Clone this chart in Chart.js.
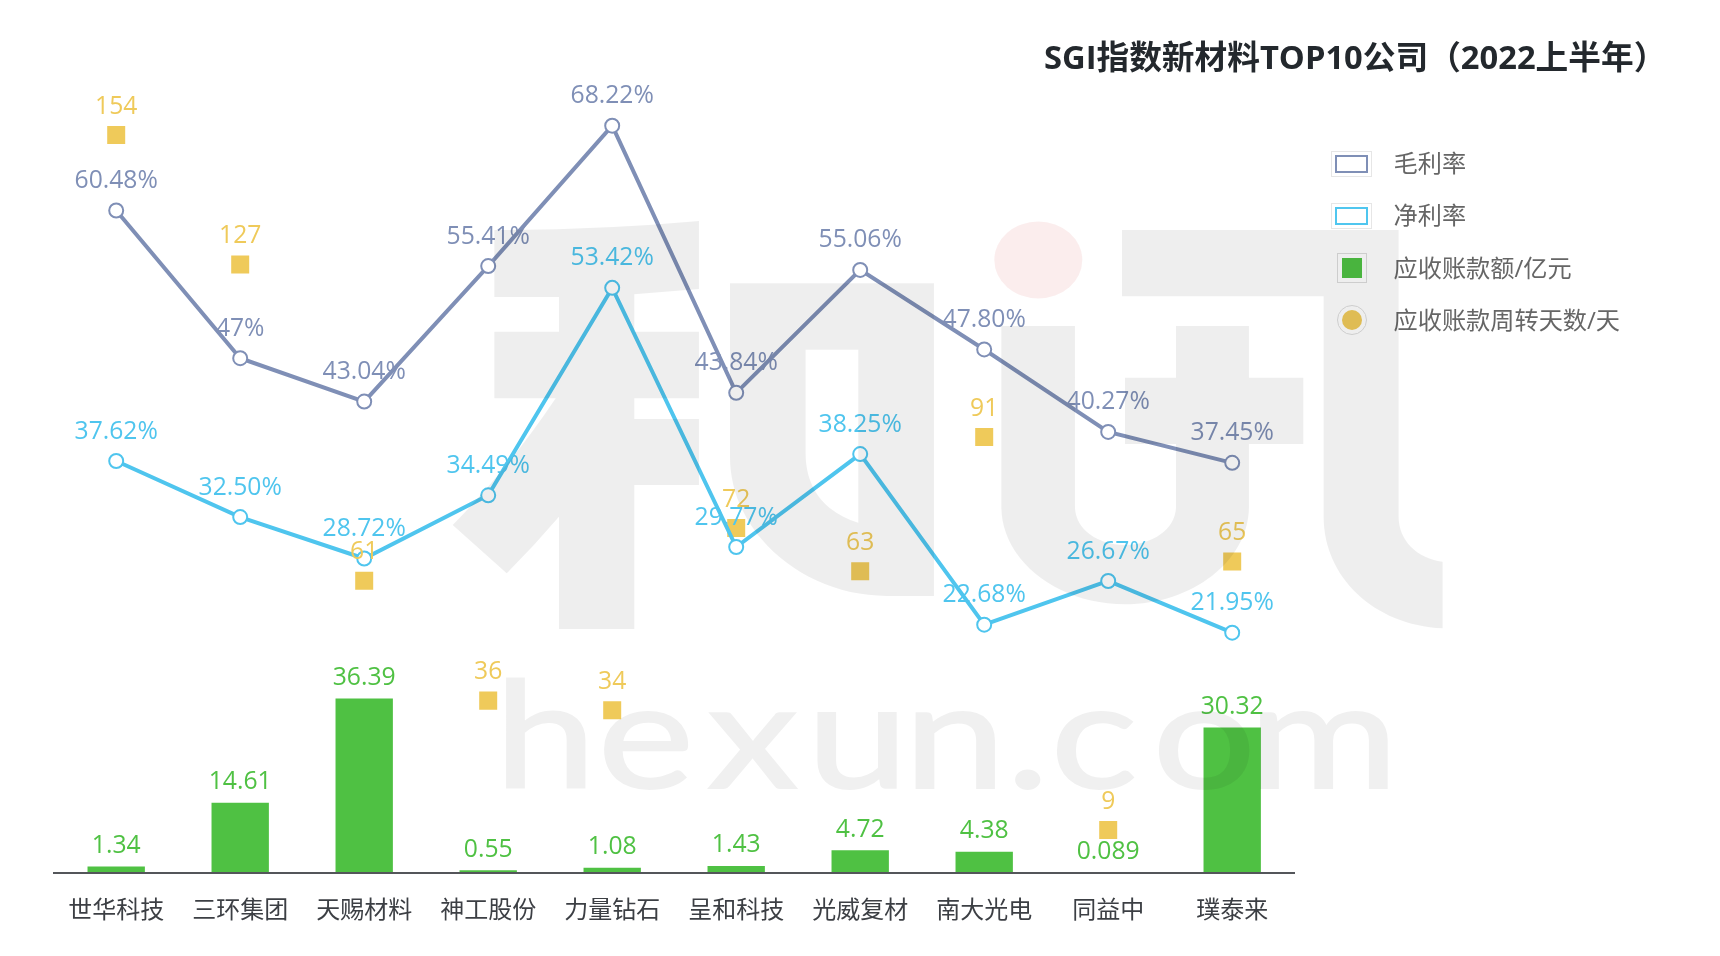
<!DOCTYPE html>
<html lang="zh">
<head>
<meta charset="utf-8">
<title>SGI指数新材料TOP10公司</title>
<script src="https://cdn.jsdelivr.net/npm/chart.js@4/dist/chart.umd.min.js"></script>
<style>
  html, body { margin: 0; padding: 0; background: #fff; }
  body { width: 1720px; height: 956px; position: relative; overflow: hidden; font-family: "Open Sans", "Noto Sans CJK SC", sans-serif; }
  #chart { position: absolute; left: 0; top: 0; }
  #title { position: absolute; left: 1044px; top: 35px; font-size: 32.7px; line-height: 44px; font-weight: 700; color: #23282d; white-space: nowrap; }
  .row { position: absolute; left: 1393.5px; font-size: 24.2px; line-height: 32px; color: #666; white-space: nowrap; }
  .key { position: absolute; box-sizing: border-box; }
  #watermark { position: absolute; left: 0; top: 0; pointer-events: none; }
</style>
</head>
<body>
<canvas id="chart" width="1720" height="956"></canvas>
<div id="title">SGI指数新材料TOP10公司（2022上半年）</div>

<div class="key" style="left:1331px;top:151px;width:41px;height:26px;border:1px solid #e6e6e6"></div>
<div class="key" style="left:1335px;top:155px;width:33px;height:18px;border:2.5px solid #7f8fb6;background:#fff"></div>
<div class="row" style="top:147px">毛利率</div>
<div class="key" style="left:1331px;top:203px;width:41px;height:26px;border:1px solid #e6e6e6"></div>
<div class="key" style="left:1335px;top:207px;width:33px;height:18px;border:2.5px solid #4fc6ef;background:#fff"></div>
<div class="row" style="top:199px">净利率</div>
<div class="key" style="left:1337px;top:253px;width:30px;height:30px;border:1px solid #dcdcdc"></div>
<div class="key" style="left:1342px;top:258px;width:20px;height:20px;background:#4fc143"></div>
<div class="row" style="top:252px">应收账款额/亿元</div>
<div class="key" style="left:1337px;top:305px;width:30px;height:30px;border:1px solid #dcdcdc;border-radius:50%"></div>
<div class="key" style="left:1342px;top:310px;width:20px;height:20px;background:#efca5a;border-radius:50%"></div>
<div class="row" style="top:304px">应收账款周转天数/天</div>

<svg id="watermark" width="1720" height="956" viewBox="0 0 1720 956">
  <g fill="#000" fill-opacity="0.067" fill-rule="evenodd">
    <g transform="translate(440 200) scale(0.3333)">
      <path d="M163,90 Q480,90 777,63 V267 L583,283 V395 H777 V595 H583 V657 H777 V855 H583 V1287 H357 V950 Q280,1040 200,1120 L38,975 Q210,800 347,595 H163 V395 H357 V291 H163 Z"/>
      <path d="M870,250 H1482 V1188 H1340 C1090,1188 870,1000 870,770 Z M1097,449 V760 C1097,870 1160,940 1255,968 V449 Z"/>
    </g>
    <g transform="translate(940 200) scale(0.3333)">
      <path d="M184,378 H405 V920 C405,985 470,1035 555,1035 C640,1035 708,985 708,920 V732 H555 V533 H708 V378 H927 V533 H1090 V732 H927 V920 C927,1080 760,1213 555,1213 C350,1213 184,1080 184,920 Z"/>
      <path d="M546,90 H1376 V950 C1376,1020 1430,1075 1508,1085 V1285 C1300,1275 1151,1130 1151,950 V289 H546 Z"/>
    </g>
  </g>
  <ellipse cx="1038.3" cy="260" rx="44" ry="38.5" fill="#c80000" fill-opacity="0.07"/>
  <g opacity="0.058">
    <text transform="scale(1.23 1)" x="402 486 575 656 735 818 854 937 1015" y="787.7" font-family="Lato" font-size="148" fill="#000" stroke="#000" stroke-width="2">hexun.com</text>
  </g>
</svg>

<script>
const categories = ["世华科技", "三环集团", "天赐材料", "神工股份", "力量钻石", "呈和科技", "光威复材", "南大光电", "同益中", "璞泰来"];
const grossMargin = [60.48, 47, 43.04, 55.41, 68.22, 43.84, 55.06, 47.80, 40.27, 37.45];
const grossLabels = ["60.48%", "47%", "43.04%", "55.41%", "68.22%", "43.84%", "55.06%", "47.80%", "40.27%", "37.45%"];
const netMargin = [37.62, 32.50, 28.72, 34.49, 53.42, 29.77, 38.25, 22.68, 26.67, 21.95];
const netLabels = ["37.62%", "32.50%", "28.72%", "34.49%", "53.42%", "29.77%", "38.25%", "22.68%", "26.67%", "21.95%"];
const receivables = [1.34, 14.61, 36.39, 0.55, 1.08, 1.43, 4.72, 4.38, 0.089, 30.32];
const turnoverDays = [154, 127, 61, 36, 34, 72, 63, 91, 9, 65];

const GROSS = "#7f8fb6";
const NET = "#4fc5ee";
const GREEN = "#4fc143";
const GOLD = "#efca5a";
const FONT = '"Open Sans", "Noto Sans CJK SC", sans-serif';

// data labels, one offset per dataset, drawn above the marks
const valueLabels = {
    id: "valueLabels",
    afterDatasetsDraw(chart) {
        const ctx = chart.ctx;
        ctx.save();
        ctx.font = "24.7px " + FONT;
        ctx.textAlign = "center";
        ctx.textBaseline = "middle";
        [1, 0, 2, 3].forEach(function (i) {
            const ds = chart.data.datasets[i];
            ctx.fillStyle = ds.labelColor;
            chart.getDatasetMeta(i).data.forEach(function (el, n) {
                ctx.fillText(ds.labelText[n], el.x, el.y - ds.labelGap);
            });
        });
        ctx.restore();
    }
};

new Chart(document.getElementById("chart"), {
    data: {
        labels: categories,
        datasets: [
            {
                type: "line", label: "应收账款周转天数/天", data: turnoverDays, yAxisID: "y", order: 3,
                showLine: false, pointStyle: "rect", pointRadius: 12.73, pointHoverRadius: 12.73,
                pointBackgroundColor: GOLD, pointBorderWidth: 0,
                labelColor: GOLD, labelText: turnoverDays, labelGap: 28.4
            },
            {
                type: "bar", label: "应收账款额/亿元", data: receivables, yAxisID: "y", order: 4,
                backgroundColor: GREEN, barThickness: 56.7,
                labelColor: GREEN, labelText: receivables, labelGap: 21
            },
            {
                type: "line", label: "毛利率", data: grossMargin, yAxisID: "y1", order: 2,
                borderColor: GROSS, borderWidth: 4, tension: 0,
                pointRadius: 7, pointBorderWidth: 2, pointBackgroundColor: "#fff", pointBorderColor: GROSS,
                labelColor: GROSS, labelText: grossLabels, labelGap: 29.5
            },
            {
                type: "line", label: "净利率", data: netMargin, yAxisID: "y1", order: 1,
                borderColor: NET, borderWidth: 4, tension: 0,
                pointRadius: 7, pointBorderWidth: 2, pointBackgroundColor: "#fff", pointBorderColor: NET,
                labelColor: NET, labelText: netLabels, labelGap: 29.5
            }
        ]
    },
    options: {
        responsive: false,
        animation: false,
        devicePixelRatio: 1,
        layout: { padding: { left: 54.2, right: 425.8, top: 106.2, bottom: 0 } },
        plugins: { legend: { display: false }, title: { display: false } },
        scales: {
            x: {
                grid: { drawOnChartArea: false, drawTicks: false },
                border: { display: true, color: "#54565a", width: 2, z: 1 },
                ticks: { color: "#3c3f44", font: { size: 24, family: FONT }, padding: 23.5, maxRotation: 0 },
                afterFit(scale) { scale.height = 82.8; }
            },
            y: { display: false, min: 0, max: 160 },
            y1: { display: false, min: 0, max: 70 }
        }
    },
    plugins: [valueLabels]
});
</script>
</body>
</html>
